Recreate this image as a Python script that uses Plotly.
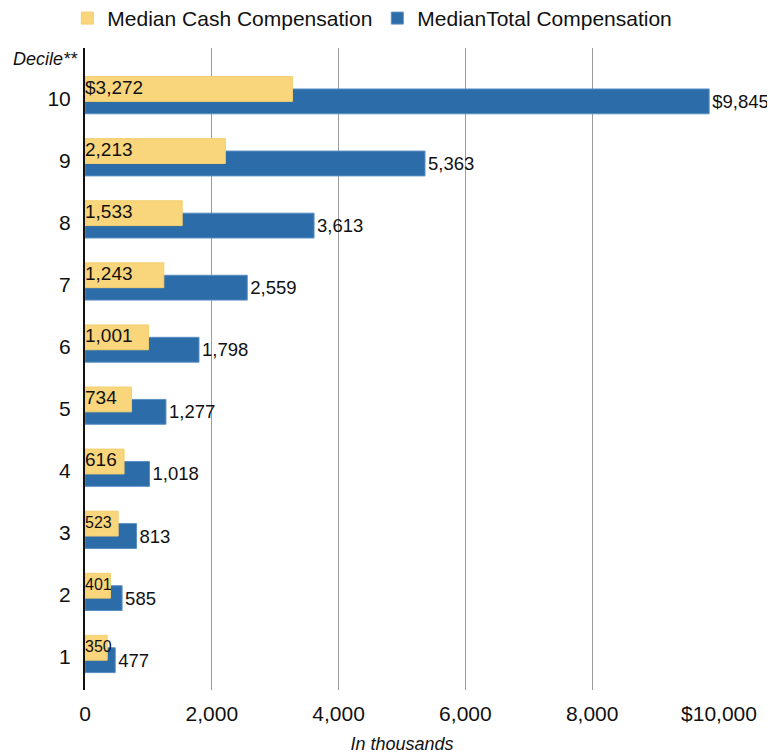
import plotly.graph_objects as go

deciles = [1, 2, 3, 4, 5, 6, 7, 8, 9, 10]
cash = [350, 401, 523, 616, 734, 1001, 1243, 1533, 2213, 3272]
total = [477, 585, 813, 1018, 1277, 1798, 2559, 3613, 5363, 9845]
cash_labels = ["350", "401", "523", "616", "734", "1,001", "1,243", "1,533", "2,213", "$3,272"]
total_labels = ["477", "585", "813", "1,018", "1,277", "1,798", "2,559", "3,613", "5,363", "$9,845"]
x_tickvals = [0, 2000, 4000, 6000, 8000, 10000]
x_ticktext = ["0", "2,000", "4,000", "6,000", "8,000", "$10,000"]

YELLOW = "#F9D67B"
BLUE = "#2B6CA9"
FONT = "Liberation Sans, Arial, sans-serif"

fig = go.Figure()

fig.add_trace(go.Bar(
    y=deciles, x=total, orientation="h",
    offset=-0.25, width=0.4,
    marker=dict(color=BLUE, line=dict(color="#5a8fc4", width=1)),
    text=total_labels, textposition="outside", constraintext="none",
    textfont=dict(size=18.5, color="#111", family=FONT),
    cliponaxis=False,
    name="MedianTotal Compensation", legendrank=2,
    hoverinfo="skip",
))

fig.add_trace(go.Bar(
    y=deciles, x=cash, orientation="h",
    offset=-0.05, width=0.4,
    marker=dict(color=YELLOW, line=dict(color="#f3cf70", width=1)),
    textposition="none",
    name="Median Cash Compensation", legendrank=1,
    hoverinfo="skip",
))

fig.add_trace(go.Scatter(
    x=[0] * len(deciles), y=[d + 0.15 for d in deciles],
    mode="text", text=cash_labels, textposition="middle right",
    textfont=dict(size=[19 if v > 600 else 16 for v in cash], color="#111", family=FONT),
    showlegend=False, cliponaxis=False, hoverinfo="skip",
))

fig.add_annotation(
    text="<i>Decile**</i>", xref="paper", yref="paper", x=0, y=1,
    xanchor="right", yanchor="top", xshift=-5, yshift=1, showarrow=False,
    font=dict(size=18, color="#111", family=FONT),
)

fig.update_layout(
    width=767, height=748,
    margin=dict(l=77, r=56, t=40, b=66),
    barmode="overlay",
    plot_bgcolor="white", paper_bgcolor="white",
    font=dict(family=FONT, color="#111"),
    legend=dict(
        orientation="h", xref="container", yref="container",
        x=0.475, xanchor="center", y=0.986, yanchor="middle",
        font=dict(size=21, color="#111", family=FONT),
        itemwidth=30, tracegroupgap=0, bgcolor="rgba(0,0,0,0)",
    ),
    xaxis=dict(
        range=[0, 10000], tickvals=x_tickvals, ticktext=x_ticktext,
        showgrid=True, gridcolor="#9a9a9a", gridwidth=1, zeroline=False,
        showline=False, ticks="", automargin=False, ticklabelstandoff=9,
        tickfont=dict(size=21, color="#111", family=FONT),
        title=dict(text="<i>In thousands</i>", font=dict(size=18, color="#111", family=FONT), standoff=13),
    ),
    yaxis=dict(
        range=[0.47, 10.81], tickvals=deciles, ticktext=[str(d) for d in deciles],
        showgrid=False, zeroline=False, automargin=False,
        showline=True, linecolor="#111", linewidth=2,
        ticks="", ticklabelstandoff=8,
        tickfont=dict(size=21, color="#111", family=FONT),
    ),
)

fig.write_html("out.html")
